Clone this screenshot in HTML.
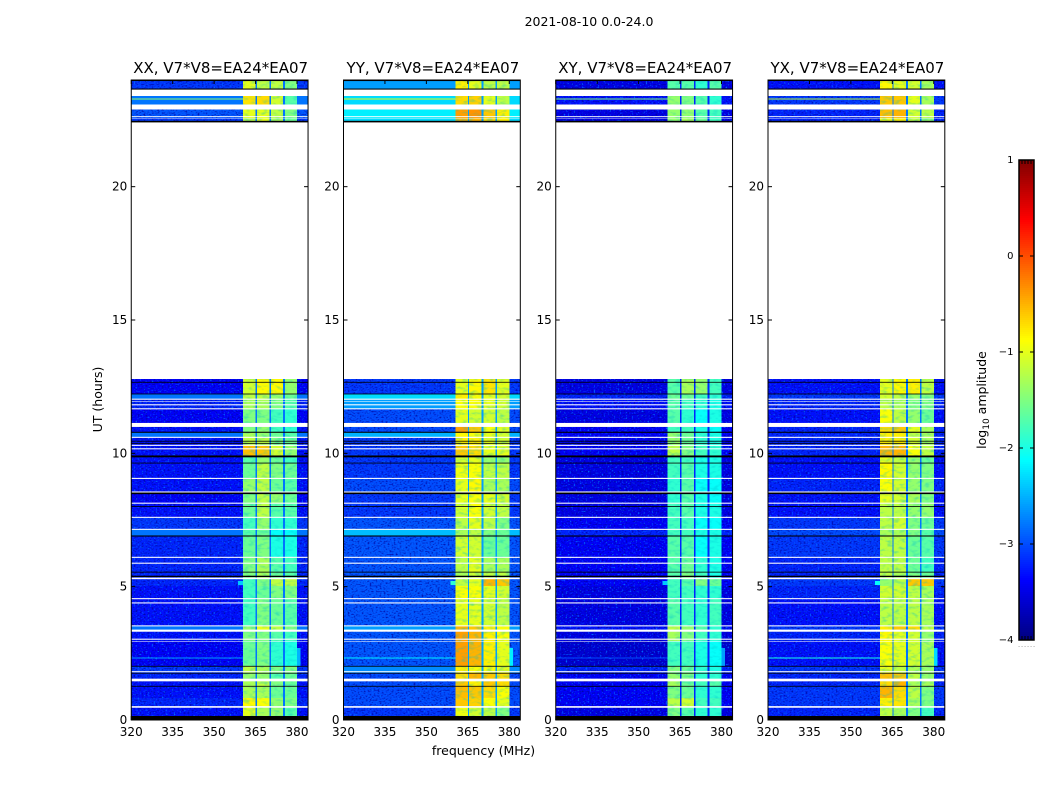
<!DOCTYPE html>
<html lang="en">
<head>
<meta charset="utf-8">
<title>2021-08-10 0.0-24.0</title>
<style>
html,body{margin:0;padding:0;background:#fff;}
svg{display:block;}
text{font-family:"DejaVu Sans","Liberation Sans",sans-serif;fill:#000;}
</style>
</head>
<body>
<svg id="figure" xmlns="http://www.w3.org/2000/svg" width="1050" height="800" viewBox="0 0 1050 800">
  <defs>
    <filter id="speckle" filterUnits="userSpaceOnUse" x="0" y="0" width="1050" height="800" color-interpolation-filters="sRGB">
      <feTurbulence type="fractalNoise" baseFrequency="0.5 0.7" numOctaves="1" seed="4" result="n1"/>
      <feColorMatrix in="n1" type="matrix" values="0 0 0 0 0  0 0 0 0 0.4  0 0 0 0 1  5 0 0 0 -2.92" result="lightDots"/>
      <feTurbulence type="fractalNoise" baseFrequency="0.5 0.7" numOctaves="1" seed="11" result="n2"/>
      <feColorMatrix in="n2" type="matrix" values="0 0 0 0 0  0 0 0 0 0  0 0 0 0 0.6  2.6 0 0 0 -1.25" result="darkDots"/>
      <feMerge result="dots"><feMergeNode in="darkDots"/><feMergeNode in="lightDots"/></feMerge>
      <feComposite in="dots" in2="SourceAlpha" operator="in" result="clipped"/>
      <feBlend in="clipped" in2="SourceGraphic" mode="normal"/>
    </filter>
    <filter id="mottle" filterUnits="userSpaceOnUse" x="0" y="0" width="1050" height="800" color-interpolation-filters="sRGB">
      <feTurbulence type="fractalNoise" baseFrequency="0.16 0.32" numOctaves="2" seed="7" result="n3"/>
      <feColorMatrix in="n3" type="matrix" values="0 0 0 0 0  0 0 0 0 0.75  0 0 0 0 0.8  1.1 0 0 0 -0.52" result="tone"/>
      <feComposite in="tone" in2="SourceAlpha" operator="in" result="toneClip"/>
      <feBlend in="toneClip" in2="SourceGraphic" mode="normal"/>
    </filter>
  </defs>
  <rect x="0" y="0" width="1050" height="800" fill="#fff"/>
  <text x="589" y="26" font-size="12.5" text-anchor="middle">2021-08-10 0.0-24.0</text>
  <g id="panels"></g>
  <text x="483.5" y="755" font-size="12.5" text-anchor="middle">frequency (MHz)</text>
  <text transform="translate(102 399.5) rotate(-90)" font-size="12.5" text-anchor="middle">UT (hours)</text>
  <g id="colorbar"></g>
  <text transform="translate(986 400) rotate(-90)" font-size="12.5" text-anchor="middle">log<tspan font-size="9" dy="3">10</tspan><tspan dy="-3"> amplitude</tspan></text>
</svg>
<script>
// ---- chart data (hours, MHz and log10 amplitude) ----
const panelTitles = ['XX, V7*V8=EA24*EA07', 'YY, V7*V8=EA24*EA07', 'XY, V7*V8=EA24*EA07', 'YX, V7*V8=EA24*EA07'];
const xTicks = [320, 335, 350, 365, 380];
const yTicks = [0, 5, 10, 15, 20];
const cbarTicks = [1, 0, -1, -2, -3, -4];
const freqRange = [320, 384];
const timeRange = [0, 24];
const ampRange = [-4, 1];
const subbandEdges = [[360.5, 365], [365.5, 370], [370.6, 375], [375.6, 380]];
const rowEdges = [0, .15, .49, .83, 1.28, 1.5, 1.76, 2.03, 2.96, 3.34, 3.53, 4.54, 5.03, 5.33, 5.55, 6.11, 6.9, 7.16, 7.61, 8.14, 8.51, 9.08, 9.64, 9.9, 10.31, 10.61, 10.8, 10.99, 11.14, 11.66, 12.04, 12.23, 12.79, 22.43, 22.58, 22.9, 23.08, 23.4, 23.64, 23.96, 24];
// each row: [background, subband1, subband2, subband3, subband4]
const xxRows = [
[-3.4,-.9,-1.2,-1.4,-1.7],[-3.3,-1,-1.3,-1.4,-1.7],[-3.2,-.85,-.9,-1.4,-1.5],[-3.3,-1.3,-1.3,-1.6,-1.6],[-3.3,-1.3,-1.2,-1.5,-1.6],
[-3.2,-1.4,-1.4,-1.7,-1.6],[-3.1,-1.2,-1.3,-1.5,-1.5],[-3.4,-1.6,-1.5,-1.9,-2],[-3.3,-1.5,-1.5,-1.7,-1.8],[-2.8,-1.4,-1,-1.2,-1.5],
[-3.3,-1.8,-1.5,-1.6,-1.7],[-3.3,-1.8,-1.6,-1.5,-1.5],[-3.2,-1.8,-1.5,-1.2,-1.2],[-3.2,-1.5,-1.3,-1.6,-1.7],[-3.2,-1.5,-1.3,-1.7,-1.8],
[-3.2,-1.6,-1.5,-2,-2],[-2.8,-1.7,-1.6,-2.1,-2.1],[-3.1,-1.8,-1.4,-1.9,-1.9],[-3.3,-1.6,-1.2,-1.7,-1.7],[-3.4,-1.5,-1.2,-1.4,-1.6],
[-3.3,-1.4,-1.2,-1.6,-1.7],[-3.3,-1.6,-1.2,-1.5,-1.6],[-3.3,-1.7,-1.4,-1.6,-1.8],[-3.3,-.55,-.6,-1.1,-1.4],[-3.3,-1.2,-1.2,-1.5,-1.6],
[-2.8,-1.3,-1.4,-1.6,-1.7],[-3.3,-1.5,-1.4,-1.8,-1.9],[-3.3,-1.5,-1.4,-1.8,-1.9],[-3.4,-1.5,-1.5,-1.8,-1.9],[-3.2,-1.3,-1.3,-1.5,-1.7],
[-2.8,-1.2,-1.2,-1.4,-1.6],[-3.4,-1.1,-.85,-.85,-1.4],null,[-3.1,-1.2,-1,-1.3,-1.6],[-2.95,-1,-1,-1.2,-1.5],
null,[-2.8,-.75,-.7,-1.1,-1.7],null,[-3.1,-1,-1.2,-1.2,-1.5],null];
const yyRows = [
[-3.1,-.9,-1.1,-1.2,-1.4],[-3.1,-.95,-1.1,-1.2,-1.5],[-3,-.6,-.65,-.9,-1],[-3,-.55,-.6,-.7,-.9],[-3,-.6,-.8,-.6,-.7],
[-3,-.7,-.5,-.6,-.7],[-2.7,-.8,-.9,-.9,-1],[-2.95,-.4,-.5,-.8,-1],[-2.95,-.4,-.5,-.8,-.9],[-2.6,-.5,-.6,-.8,-.9],
[-2.95,-1,-1,-1.1,-1.2],[-2.95,-.9,-.9,-1,-1.1],[-2.95,-1.2,-1,-.5,-.6],[-2.95,-1.3,-1.1,-1.2,-1.2],[-2.95,-1.2,-1,-1.3,-1.3],
[-2.95,-1.1,-1.1,-1.6,-1.6],[-2.45,-1.3,-1.2,-1.5,-1.6],[-2.95,-1.2,-1,-1.2,-1.5],[-3.1,-1.1,-.9,-1.1,-1.2],[-3.1,-1,-.9,-1,-1.1],
[-3,-1,-.85,-1.3,-1.3],[-3.1,-.95,-.9,-1.2,-1.2],[-3.1,-1.1,-1,-1.4,-1.4],[-3.1,-.6,-.7,-1,-1],[-3.1,-.8,-.8,-1,-1.1],
[-2.5,-.85,-.9,-1,-1.1],[-3,-.4,-.6,-.9,-1],[-3,-.4,-.6,-.9,-1],[-3,-1,-1.1,-1.1,-1.2],[-2.6,-.9,-.9,-1,-1.1],
[-2.3,-.8,-.9,-1,-1.1],[-3.1,-1,-.85,-.75,-1],null,[-2.3,-.5,-.5,-.7,-.8],[-2.2,-.4,-.35,-.6,-.8],
null,[-2.3,-.7,-.65,-1,-1.2],null,[-2.6,-.8,-1,-1.2,-1.2],null];
const xyRows = [
[-3.5,-1.6,-1.8,-1.9,-1.9],[-3.5,-1.5,-1.7,-1.9,-1.9],[-3.4,-1.2,-1.1,-1.8,-1.8],[-3.4,-1.5,-1.6,-1.9,-1.9],[-3.4,-1.3,-1.6,-1.8,-1.7],
[-3.4,-1.4,-1.5,-1.9,-1.9],[-3.2,-1.5,-1.6,-1.9,-2],[-3.6,-1.8,-1.8,-2,-2.1],[-3.5,-1.3,-1.5,-1.8,-1.9],[-3.3,-1.2,-1.4,-1.7,-1.9],
[-3.5,-1.7,-1.8,-1.9,-1.8],[-3.5,-1.8,-1.8,-1.9,-1.9],[-3.4,-1.8,-1.7,-1.5,-1.6],[-3.4,-1.7,-1.5,-1.8,-2],[-3.4,-1.7,-1.6,-1.9,-2],
[-3.4,-1.7,-1.7,-2.1,-2],[-3.2,-1.8,-1.8,-2,-2],[-3.4,-1.8,-1.8,-2.1,-2.1],[-3.5,-1.8,-1.7,-2,-2],[-3.5,-1.9,-1.7,-2,-2.1],
[-3.5,-1.9,-1.7,-2.1,-2.1],[-3.5,-1.8,-1.7,-2,-2],[-3.5,-1.8,-1.8,-2,-2],[-3.4,-1.2,-1.5,-1.8,-1.9],[-3.4,-1.4,-1.6,-1.9,-2],
[-3.4,-1.4,-1.6,-1.9,-2],[-3.4,-1.8,-1.8,-2,-2.1],[-3.4,-1.8,-1.8,-2,-2.1],[-3.5,-1.7,-1.9,-2.1,-2],[-3.3,-1.7,-1.8,-1.9,-2],
[-3.2,-1.6,-1.6,-1.8,-1.9],[-3.5,-1.7,-1.3,-1.4,-1.8],null,[-3.5,-1.4,-1.3,-1.6,-1.8],[-3.5,-1.4,-1.4,-1.7,-1.8],
null,[-3.3,-1.4,-1.5,-1.7,-1.9],null,[-3.5,-1.7,-1.7,-1.9,-1.7],null];
const yxRows = [
[-3.3,-1.2,-1.4,-1.6,-1.9],[-3.2,-1.2,-1.3,-1.5,-1.8],[-3.1,-.8,-.75,-1.3,-1.5],[-3.1,-.5,-.7,-1.2,-1.5],[-3.2,-.7,-.5,-1.3,-1.3],
[-3.2,-.55,-.6,-1.2,-1.4],[-3.1,-1,-1.2,-1.3,-1.4],[-3.3,-.9,-1,-1.1,-1.3],[-3.2,-.85,-1,-1.1,-1.4],[-3.1,-.8,-.6,-.7,-1.2],
[-3.3,-1.2,-1.2,-1.2,-1.3],[-3.2,-1.1,-1.1,-1.2,-1.3],[-3.1,-1.4,-1.2,-.6,-.6],[-3.2,-1.2,-1.3,-1.5,-1.6],[-3.2,-1.2,-1.2,-1.6,-1.8],
[-3.1,-1.2,-1.2,-1.6,-1.7],[-3,-1.3,-1.3,-1.5,-1.7],[-3.1,-1.2,-1.1,-1.5,-1.6],[-3.3,-1.2,-1.2,-1.4,-1.4],[-3.3,-1,-1.1,-1.3,-1.5],
[-3.2,-.9,-1.1,-1.4,-1.5],[-3.3,-.85,-1.1,-1.4,-1.5],[-3.3,-1,-1.2,-1.4,-1.6],[-3.2,-.5,-.5,-.9,-1.2],[-3.2,-.8,-.8,-1.1,-1.3],
[-3.2,-.8,-.8,-1.2,-1.3],[-3.2,-.7,-.6,-1,-1.3],[-3.2,-.7,-.6,-1,-1.3],[-3.3,-.9,-1.2,-1.4,-1.6],[-3.2,-1.2,-1.3,-1.5,-1.5],
[-3.1,-1.1,-1.2,-1.4,-1.5],[-3.3,-1,-.85,-.8,-1.2],null,[-3.2,-.9,-.8,-1.2,-1.4],[-3.2,-.55,-.5,-1.1,-1.2],
null,[-3.1,-.6,-.6,-1,-1.3],null,[-3.3,-.85,-1,-1.1,-1.3],null];
const notchLevels = [-2.8, -2.6, -3.2, -2.8];
// short-lived extensions of the signal outside the main band
const shoulderSpan = [358.7, 360.5];
const shoulderHours = [5.06, 5.22];
const shoulderLevels = [-2.4, -1.9, -2.4, -2.1];
const edgeSpan = [380, 381.3];
const edgeHours = [2.03, 2.7];
const edgeLevels = [-2.5, -2.2, -2.6, -2.3];
// narrow interference lines
const rfiHours = [23.28, 2.32];
const rfiXX = [-1.4, -2.6];
const rfiYY = [-1.0, -2.2];
const rfiXY = [-1.5, -3.0];
const rfiYX = [-1.2, -2.0];
// flagged time ranges: [start hour, end hour]
const whiteGaps = [[.46,.52],[1.45,1.55],[1.79,1.83],[2.93,2.95],[3.01,3.05],[3.31,3.39],[3.51,3.55],[4.37,4.41],[4.53,4.57],[5.28,5.34],[5.86,5.9],[6.08,6.12],[7.13,7.17],[7.58,7.62],[8.11,8.15],[8.53,8.57],[9.04,9.08],[10.15,10.19],[10.28,10.32],[10.58,10.62],[10.99,11.14],[11.65,11.69],[11.8,11.84],[11.94,11.96],[12.01,12.05],[12.79,22.43],[22.62,22.65],[22.56,22.58],[22.9,23.08],[23.4,23.64]];
const blackGaps = [[0,.15],[1.25,1.28],[1.74,1.77],[2,2.03],[5.36,5.41],[5.53,5.56],[6.88,6.92],[7.99,8.02],[8.47,8.53],[9.62,9.65],[9.85,9.92],[10.36,10.39],[10.44,10.47],[10.77,10.81],[12.21,12.24],[12.65,12.68],[22.41,22.47],[23.64,23.68],[23.96,24]];

const panelRows = [xxRows, yyRows, xyRows, yxRows];
const panelRfi = [rfiXX, rfiYY, rfiXY, rfiYX];

// ---- axis functions ----
const axW = 176.8, axTop = 80, axBottom = 720;
function panelLeft(p) { return 131.25 + p * 212.25; }
function xScale(f, p) { return panelLeft(p) + (f - freqRange[0]) / (freqRange[1] - freqRange[0]) * axW; }
function yScale(h) { return axBottom - (h - timeRange[0]) / (timeRange[1] - timeRange[0]) * (axBottom - axTop); }
function jet(a) {
  const v = Math.max(0, Math.min(1, (a - ampRange[0]) / (ampRange[1] - ampRange[0])));
  const clip = t => Math.max(0, Math.min(1, t));
  const r = clip(Math.min(4 * v - 1.5, -4 * v + 4.5));
  const g = clip(Math.min(4 * v - 0.5, -4 * v + 3.5));
  const b = clip(Math.min(4 * v + 0.5, -4 * v + 2.5));
  return 'rgb(' + Math.round(r * 255) + ',' + Math.round(g * 255) + ',' + Math.round(b * 255) + ')';
}
const NS = 'http://www.w3.org/2000/svg';
function mk(tag, parent, props) {
  const el = document.createElementNS(NS, tag);
  for (const k in props) el.setAttribute(k, props[k]);
  parent.appendChild(el);
  return el;
}
function cell(parent, f0, f1, h0, h1, p, level) {
  const y0 = yScale(h1), y1 = yScale(h0);
  const x0 = xScale(f0, p), x1 = xScale(f1, p);
  return mk('rect', parent, { x: x0, y: y0, width: x1 - x0, height: y1 - y0, fill: jet(level), 'shape-rendering': 'crispEdges' });
}

// ---- draw panels ----
const panelsRoot = document.getElementById('panels');
panelTitles.forEach(function (title, p) {
  const rows = panelRows[p];
  const g = mk('g', panelsRoot, {});
  
  

  const bgGroup = mk('g', g, { filter: 'url(#speckle)' });
  
  
  const smoothGroup = mk('g', g, {});
  
  
  const sigGroup = mk('g', g, { filter: 'url(#mottle)' });
  
  

  rows.forEach(function (row, i) {
    if (!row) return;
    const h0 = rowEdges[i], h1 = rowEdges[i + 1];
    const target = row[0] > -2.85 ? smoothGroup : bgGroup;
    const bgLeft = cell(target, freqRange[0], subbandEdges[0][0], h0, h1, p, row[0]);
    
    
    const bgRight = cell(target, subbandEdges[3][1], freqRange[1], h0, h1, p, row[0]);
    
    
    subbandEdges.forEach(function (edges, b) {
      const c = cell(sigGroup, edges[0], edges[1], h0, h1, p, row[b + 1]);
      
      
      if (b < subbandEdges.length - 1) {
        const n = cell(smoothGroup, edges[1], subbandEdges[b + 1][0], h0, h1, p, notchLevels[p]);
        
        
      }
    });
  });

  const shoulder = cell(smoothGroup, shoulderSpan[0], shoulderSpan[1], shoulderHours[0], shoulderHours[1], p, shoulderLevels[p]);
  
  
  const edge = cell(smoothGroup, edgeSpan[0], edgeSpan[1], edgeHours[0], edgeHours[1], p, edgeLevels[p]);
  
  

  rfiHours.forEach(function (h, i) {
    const line = cell(smoothGroup, freqRange[0], subbandEdges[0][0], h - 0.019, h + 0.019, p, panelRfi[p][i]);
    
    
  });

  whiteGaps.forEach(function (gap) {
    const w = mk('rect', g, { x: xScale(freqRange[0], p), y: yScale(gap[1]), width: axW, height: yScale(gap[0]) - yScale(gap[1]), fill: '#fff' });
    
    
  });
  blackGaps.forEach(function (gap) {
    const k = mk('rect', g, { x: xScale(freqRange[0], p), y: yScale(gap[1]), width: axW, height: yScale(gap[0]) - yScale(gap[1]), fill: '#000' });
    
    
  });

  const frame = mk('rect', g, { x: panelLeft(p), y: axTop, width: axW, height: axBottom - axTop, fill: 'none', stroke: '#000', 'stroke-width': 1 });
  
  

  xTicks.forEach(function (f) {
    const x = xScale(f, p);
    const t1 = mk('line', g, { x1: x, x2: x, y1: axBottom, y2: axBottom - 4, stroke: '#000', 'stroke-width': 1 });
    
    
    const t2 = mk('line', g, { x1: x, x2: x, y1: axTop, y2: axTop + 4, stroke: '#000', 'stroke-width': 1 });
    
    
    const lab = mk('text', g, { x: x, y: 736, 'font-size': 12, 'text-anchor': 'middle' });
    lab.textContent = String(f);
    
    
  });
  yTicks.forEach(function (h) {
    const y = yScale(h), l = panelLeft(p);
    const t1 = mk('line', g, { x1: l, x2: l + 4, y1: y, y2: y, stroke: '#000', 'stroke-width': 1 });
    
    
    const t2 = mk('line', g, { x1: l + axW, x2: l + axW - 4, y1: y, y2: y, stroke: '#000', 'stroke-width': 1 });
    
    
    const lab = mk('text', g, { x: l - 4, y: y + 4, 'font-size': 12, 'text-anchor': 'end' });
    lab.textContent = String(h);
    
    
  });

  const ttl = mk('text', g, { x: panelLeft(p) + axW / 2 + 1, y: 73, 'font-size': 15, 'text-anchor': 'middle' });
  ttl.textContent = title;
  
  
});

// ---- colorbar ----
const cbarRoot = document.getElementById('colorbar');
const cbX = 1019, cbW = 15, cbTop = 160, cbBottom = 640;
function cbY(a) { return cbBottom - (a - ampRange[0]) / (ampRange[1] - ampRange[0]) * (cbBottom - cbTop); }
for (let i = 0; i < 240; i++) {
  const a0 = ampRange[0] + (ampRange[1] - ampRange[0]) * i / 240;
  const a1 = ampRange[0] + (ampRange[1] - ampRange[0]) * (i + 1) / 240;
  const seg = mk('rect', cbarRoot, { x: cbX, y: cbY(a1), width: cbW, height: cbY(a0) - cbY(a1), fill: jet((a0 + a1) / 2), 'shape-rendering': 'crispEdges' });
  
  
}
const cbFrame = mk('rect', cbarRoot, { x: cbX, y: cbTop, width: cbW, height: cbBottom - cbTop, fill: 'none', stroke: '#000', 'stroke-width': 1.5 });


cbarTicks.forEach(function (a) {
  const y = cbY(a);
  const t1 = mk('line', cbarRoot, { x1: cbX, x2: cbX + 4, y1: y, y2: y, stroke: '#000', 'stroke-width': 1 });
  
  
  const t2 = mk('line', cbarRoot, { x1: cbX + cbW, x2: cbX + cbW - 4, y1: y, y2: y, stroke: '#000', 'stroke-width': 1 });
  
  
  const lab = mk('text', cbarRoot, { x: cbX - 5.5, y: y + 3, 'font-size': 10, 'text-anchor': 'end' });
  lab.textContent = a < 0 ? '\u2212' + Math.abs(a) : String(a);
  
  
});
for (let i = 0; i < 6; i++) {
  const x = cbX + cbW * i / 5;
  const tb = mk('line', cbarRoot, { x1: x, x2: x, y1: cbBottom, y2: cbBottom - 4, stroke: '#000', 'stroke-width': 1 });
  
  
  const tt = mk('line', cbarRoot, { x1: x, x2: x, y1: cbTop, y2: cbTop + 4, stroke: '#000', 'stroke-width': 1 });
  
  
  const dot = mk('text', cbarRoot, { x: x, y: 647, 'font-size': 5, 'text-anchor': 'middle' });
  dot.textContent = '.';
  
  
}
</script>
</body>
</html>
